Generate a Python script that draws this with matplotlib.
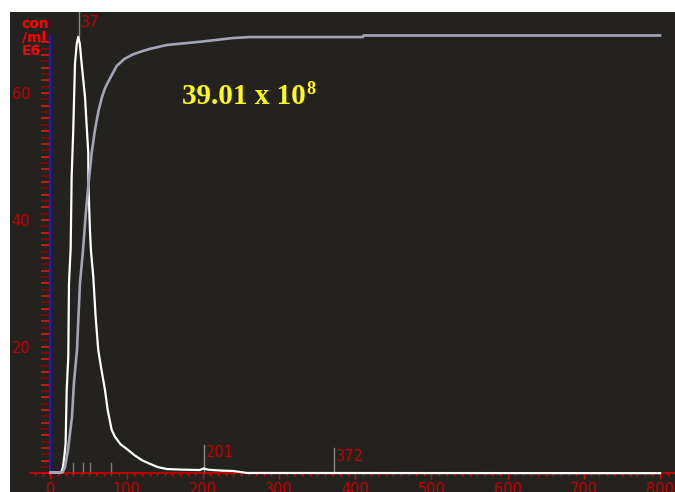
import numpy as np
import matplotlib
matplotlib.use("Agg")
import matplotlib.pyplot as plt
from matplotlib.ticker import FixedLocator, FuncFormatter

# size distribution (white)
size_x = [0, 14, 16.4, 18.5, 19.9, 21.3, 23.4, 24.3, 26.5, 27.8, 29.9, 32.2, 34.5, 36.5,
          38.5, 40.9, 45.3, 49.6, 49.8, 51.8, 53.1, 56.2, 59.3, 62.7, 66.3, 71.5, 75.1,
          80.3, 84.6, 92, 102, 110, 120, 130, 141, 153, 175, 196, 201, 207,
          225, 239.5, 258, 800]
size_y = [0.15, 0.15, 1.0, 3.0, 4.8, 13.2, 18.4, 30.0, 35.5, 46.8, 54.2, 64.7, 67.8, 68.9,
          67.8, 64.7, 59.4, 50.6, 45.8, 38.4, 35.2, 31.0, 24.7, 19.5, 16.8, 13.2, 10.0,
          6.9, 5.8, 4.6, 3.7, 2.9, 2.1, 1.55, 1.0, 0.7, 0.6, 0.55, 0.8, 0.6,
          0.45, 0.4, 0.08, 0.05]

# cumulative curve (grey)
cum_x = [0, 16, 19.0, 23.0, 28.2, 30.8, 34.8, 38.7, 42.7, 46, 49, 51, 54, 58.4, 63,
         67.6, 72, 78, 87, 97, 108, 120, 131, 153, 196, 240, 262, 410, 411, 800]
cum_y = [0.1, 0.2, 1.0, 3.7, 8.9, 14.3, 19.5, 30.0, 35.2, 40.5, 44.5, 47.0, 50.5, 54.2, 57.2,
         59.4, 60.9, 62.3, 64.3, 65.4, 66.1, 66.6, 67.0, 67.6, 68.1, 68.7, 68.85, 68.85, 69.1, 69.1]

peak_x = 37
markers = [201, 372]
small_marks = [30, 43, 52, 80]
result_text = "39.01 x 10"
result_exp = "8"

bg = "#23221e"
red = "#c80000"

fig = plt.figure(figsize=(6.75, 4.92), dpi=100)
ax = fig.add_axes([10 / 675, 0, 665 / 675, 480 / 492])
ax.set_facecolor(bg)
ax.set_xlim(-53.1, 819.6)
ax.set_ylim(-2.92, 72.8)

for s in ["top", "right"]:
    ax.spines[s].set_visible(False)
ax.spines["left"].set_position(("data", 0))
ax.spines["left"].set_color("#1a1ad0")
ax.spines["left"].set_linewidth(1.5)
ax.spines["left"].set_bounds(0, 69)
ax.spines["bottom"].set_position(("data", 0))
ax.spines["bottom"].set_color("#e00000")
ax.spines["bottom"].set_linewidth(1.1)
ax.spines["bottom"].set_bounds(-27, 819.6)

ax.xaxis.set_major_locator(FixedLocator(range(0, 900, 100)))
ax.xaxis.set_minor_locator(FixedLocator(range(-20, 820, 10)))
ax.yaxis.set_major_locator(FixedLocator(range(0, 69, 2)))
ax.yaxis.set_minor_locator(FixedLocator(range(1, 68, 2)))
ax.yaxis.set_major_formatter(FuncFormatter(lambda v, p: f"{v:.0f}" if v > 0 and v % 20 == 0 else ""))
ax.tick_params(axis="x", which="major", direction="out", length=4.5, width=1, color="#e00000",
               labelcolor=red, labelsize=10.5, pad=1.5)
ax.tick_params(axis="x", which="minor", direction="out", length=2.5, width=1, color="#e00000")
ax.tick_params(axis="y", which="major", direction="out", length=6.5, width=1.1, color="#ff1010",
               labelcolor=red, labelsize=10.5, pad=8)
ax.tick_params(axis="y", which="minor", direction="out", length=6.5, width=1.1, color="#a00000")

# curves
ax.plot(size_x, size_y, color="white", lw=1.6, zorder=3)
ax.plot(cum_x, cum_y, color="#a4a4b8", lw=1.9, zorder=4)

# peak marker
ax.plot([peak_x, peak_x], [68.9, 72.8], color="#8a8a8a", lw=1, zorder=2)
ax.annotate(str(peak_x), xy=(peak_x, 71.2), xytext=(1.5, 0), textcoords="offset points",
            color=red, fontsize=10.5, va="center", ha="left")

# other markers
for m, top, ty in zip(markers, [4.5, 4.0], [3.3, 2.7]):
    ax.plot([m, m], [0, top], color="#8a8a8a", lw=1, zorder=2)
    ax.annotate(str(m), xy=(m, ty), xytext=(1.5, 0), textcoords="offset points",
                color=red, fontsize=10.5, va="center", ha="left")
for m in small_marks:
    ax.plot([m, m], [0, 1.65], color="#7a7a7a", lw=1, zorder=2)

# units label
ax.text(-38, 72.0, "con\n/ml\nE6", color="#ff0000", fontsize=10, fontweight="bold",
        ha="left", va="top", linespacing=0.95)

# result text
t = ax.text(172.2, 58.3, result_text, color="#ffff00", fontsize=21, fontweight="bold",
            family="Liberation Serif", ha="left", va="baseline")
ax.annotate(result_exp, xy=(1, 59.9), xycoords=(t, "data"), xytext=(1, 0),
            textcoords="offset pixels", color="#ffff00", fontsize=13, fontweight="bold",
            family="Liberation Serif", ha="left", va="baseline")

fig.savefig("out.png", dpi=100)
